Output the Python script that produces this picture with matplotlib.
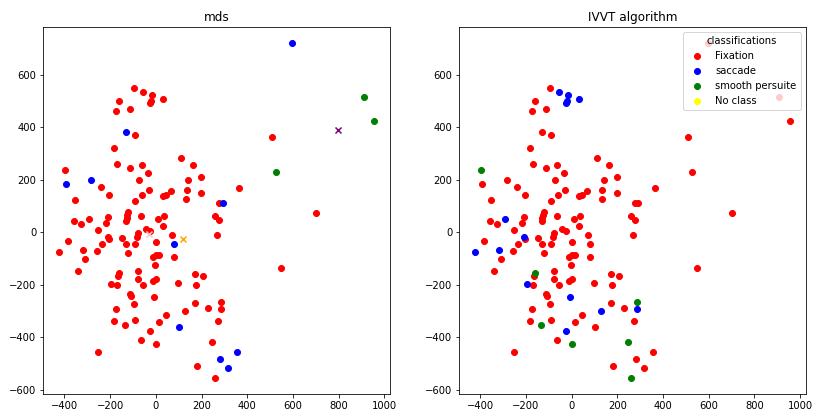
import numpy as np
import matplotlib
matplotlib.use('Agg')
import matplotlib.pyplot as plt


# 2D embedding of the samples (same points in both panels)
x = [-95, -54, -15, -26, -22, 32, -159, -175, -111, -130,
     -92, -182, -170, -111, -62, -32, -74, 112, 162, 143,
     199, -397, -391, -282, -241, -30, 67, 135, 366, -206,
     -61, -92, 33, 45, 131, 199, 277, 292, -352, -359,
     -327, -290, -207, -219, -251, -121, -125, -128, -131, -64,
     10, 35, 32, -42, -26, -79, -80, -147, -131, -92,
     -209, -206, -235, -385, -423, -318, -308, -258, -341, -121,
     3, 79, 73, 267, 261, 277, 79, -10, 2, 14,
     -3, -79, -161, -166, -77, -13, 0, 171, 206, 96,
     178, -196, -171, -57, -113, -108, -9, -96, -172, -182,
     -133, -92, 44, 13, -25, -64, 3, 103, 127, 172,
     227, 287, 287, 274, 248, -253, 283, 354, 315, 181,
     258, 596, 909, 955, 509, 525, 702, 548]
y = [548, 536, 523, 493, 501, 507, 499, 461, 469, 383,
     372, 321, 262, 246, 256, 224, 201, 283, 256, 200,
     210, 238, 184, 200, 171, 160, 157, 163, 168, 144,
     143, 118, 137, 141, 126, 149, 113, 113, 124, 45,
     31, 51, 58, 37, 10, 78, 67, 56, 45, 64,
     52, 62, 24, 12, 6, -2, -17, -20, -43, -43,
     -18, -26, -43, -32, -73, -66, -102, -70, -149, -78,
     -37, -44, -11, -11, 63, 46, -93, -95, -88, -87,
     -124, -148, -155, -166, -178, -187, -176, -157, -167, -194,
     -201, -196, -200, -201, -233, -241, -248, -274, -291, -337,
     -354, -335, -316, -343, -375, -410, -427, -361, -299, -270,
     -289, -264, -291, -337, -416, -454, -481, -454, -517, -510,
     -553, 719, 515, 424, 364, 229, 73, -135]

# F = Fixation, S = saccade, P = smooth persuite (one letter per point)
mds_class = ''.join(['FFFFFFFFFS', 'FFFFFFFFFF', 'FFSSFFFFFF',
                     'FFFFFFFSFF', 'FFFFFFFFFF', 'FFFFFFFFFF',
                     'FFFFFFFFFF', 'FSFFFFFFFF', 'FFFFFFFFFF',
                     'FFFFFFFFFF', 'FFFFFFFSFF', 'FFFFFFSSSF',
                     'FSPPFPFF'])
ivvt_class = ''.join(['FSSSSSFFFF', 'FFFFFFFFFF', 'FPFFFFFFFF',
                      'FFFFFFFFFF', 'FSFFFFFFFF', 'FFFFFFFFFF',
                      'SFFFSSFFFF', 'FFFFFFFFFF', 'FFPFFFFFFF',
                      'FSFFFFSFFF', 'PFFFSFPFSF', 'FPSFPFFFFF',
                      'PFFFFFFF'])

# extra cross markers on the mds panel
cross_x = [796, 121, -30]
cross_y = [388, -25, -7]
cross_colors = ['purple', 'orange', 'pink']

classes = ['F', 'S', 'P', 'N']
class_names = ['Fixation', 'saccade', 'smooth persuite', 'No class']
class_colors = ['red', 'blue', 'green', 'yellow']

x = np.array(x)
y = np.array(y)

fig, (ax1, ax2) = plt.subplots(1, 2, figsize=[813 / 72, 412 / 72], dpi=72)
fig.subplots_adjust(left=0.0533, right=0.991, bottom=0.043, top=0.935,
                    wspace=0.2)

for ax, labels in [(ax1, mds_class), (ax2, ivvt_class)]:
    labels = np.array(list(labels))
    for cls, name, col in zip(classes, class_names, class_colors):
        mask = labels == cls
        ax.scatter(x[mask], y[mask], c=col, label=name)

for cx, cy, col in zip(cross_x, cross_y, cross_colors):
    ax1.scatter(cx, cy, c=col, marker='x')

ax1.set_title('mds')
ax2.set_title('IVVT algorithm')
ax2.legend(title='classifications', loc='upper right')

plt.savefig('out.png', dpi=72)
plt.close(fig)
